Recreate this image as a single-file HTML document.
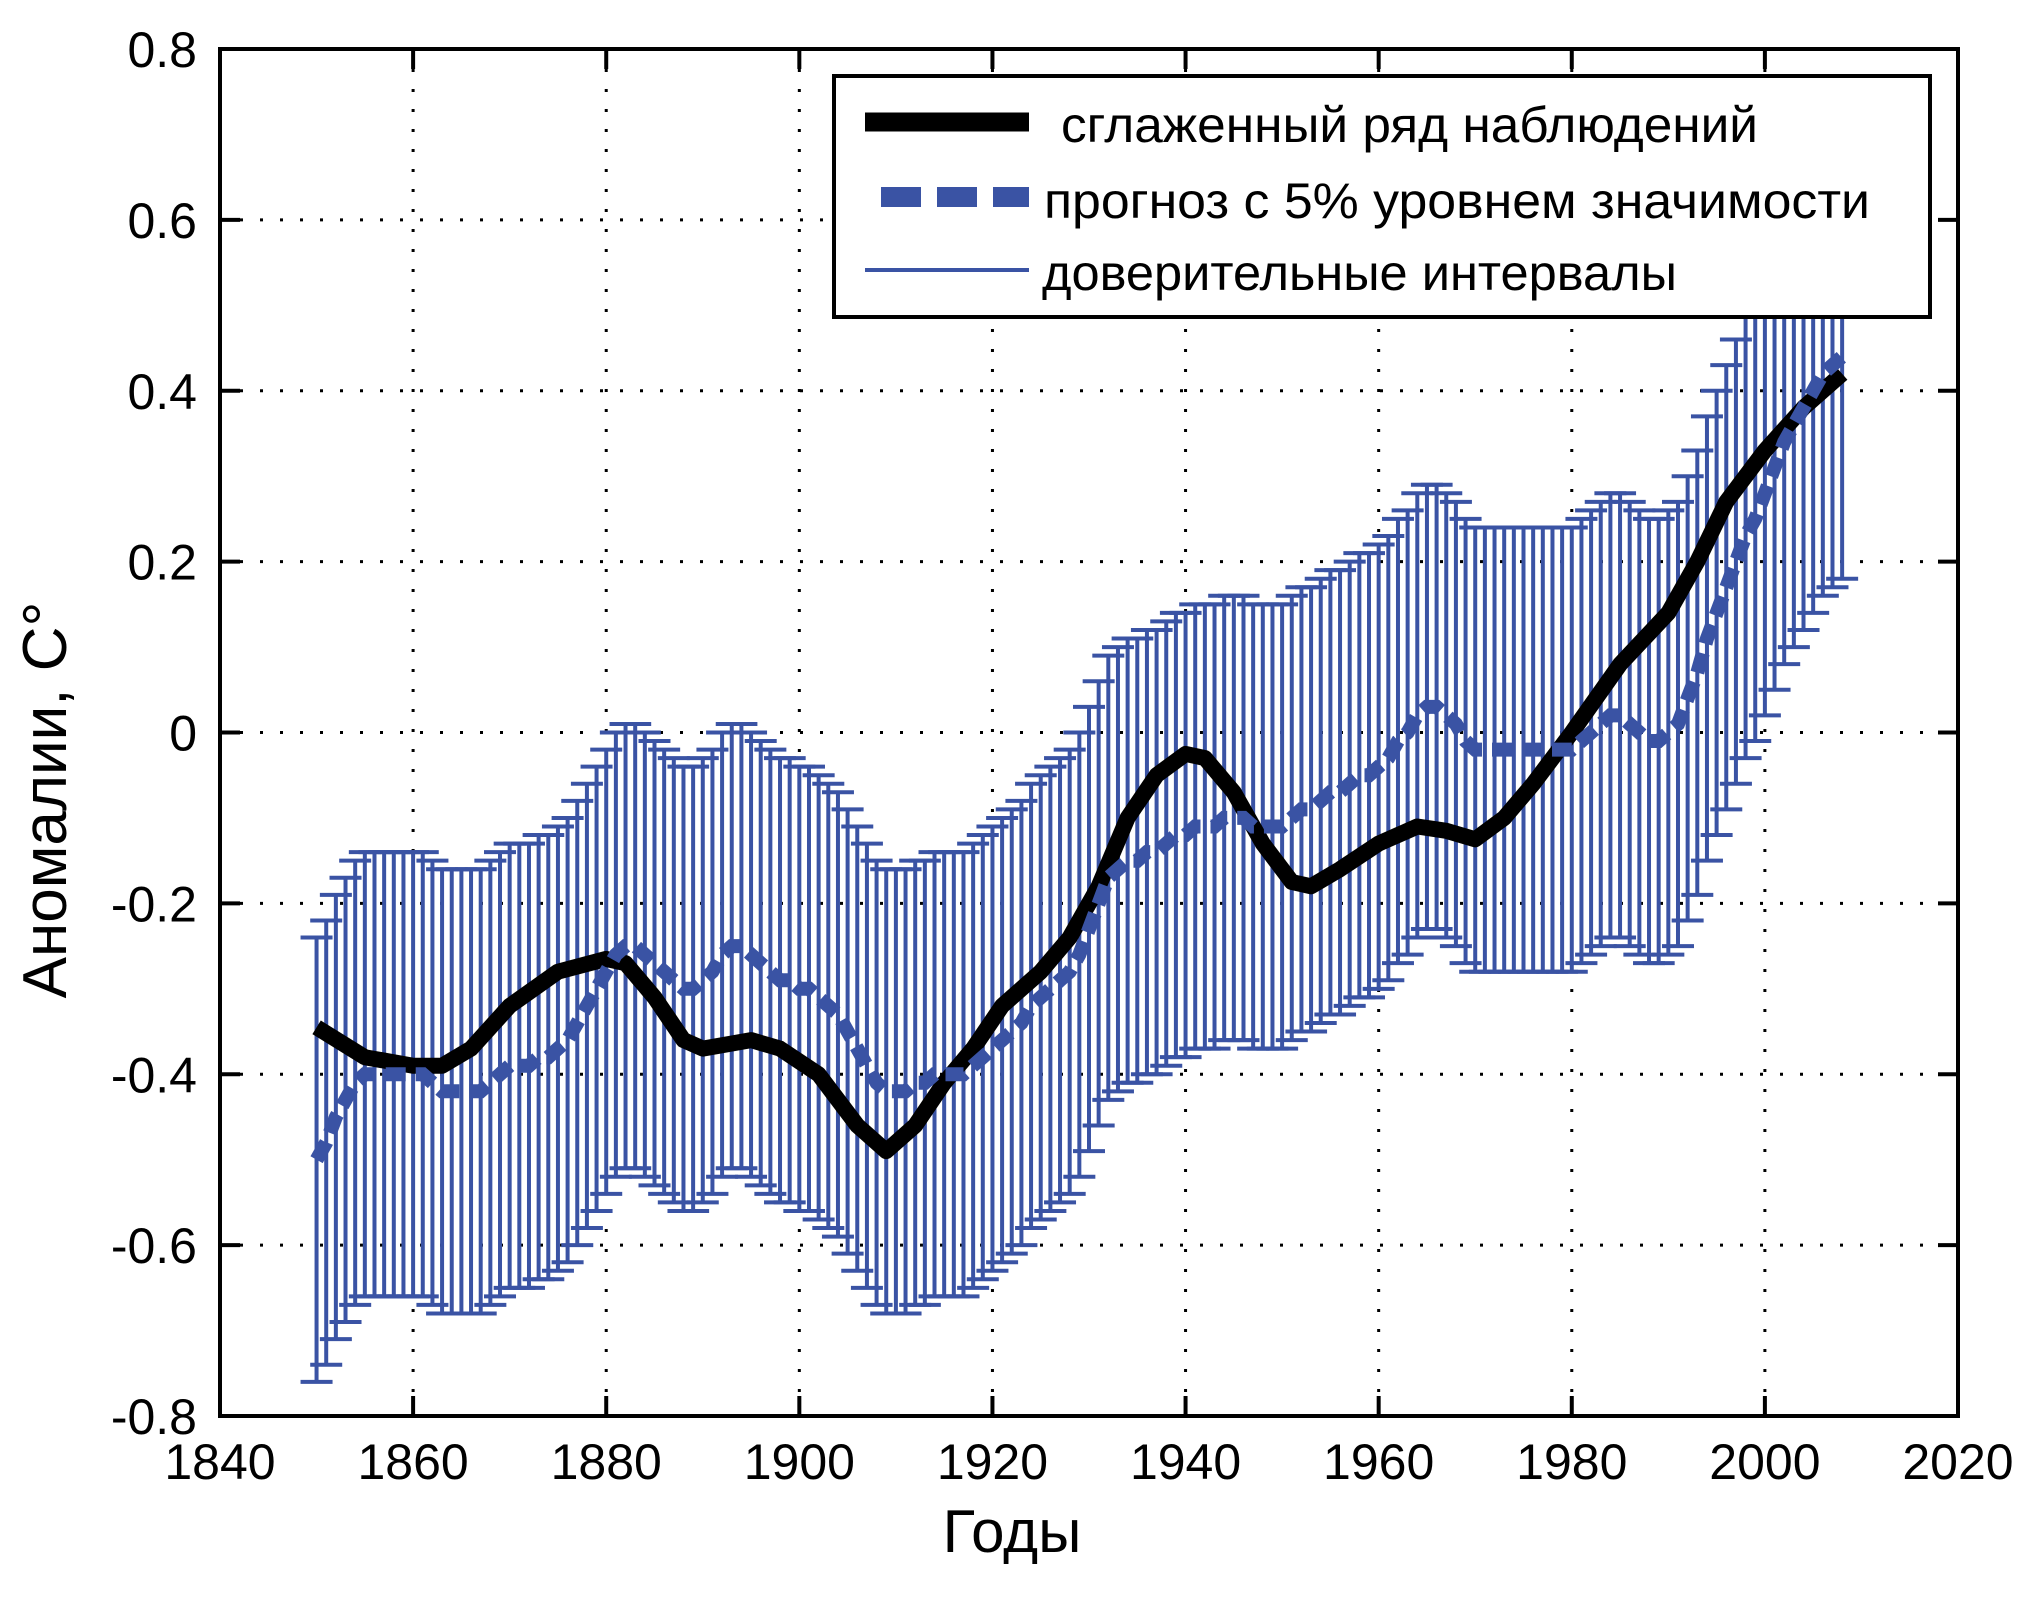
<!DOCTYPE html>
<html><head><meta charset="utf-8"><style>html,body{margin:0;padding:0;background:#fff}svg{display:block}</style></head>
<body>
<svg id="chart" width="2027" height="1599" viewBox="0 0 2027 1599" xmlns="http://www.w3.org/2000/svg" font-family="Liberation Sans, DejaVu Sans, sans-serif">
<g id="grid"></g>
<g id="bars"></g>
<g id="lines"></g>
<rect x="220" y="49" width="1738" height="1367" fill="none" stroke="#000" stroke-width="4"/>
<g id="ticks"></g>
<text x="1012" y="1552" font-size="60" text-anchor="middle">Годы</text>
<text x="0" y="0" font-size="62" text-anchor="middle" transform="translate(66,800) rotate(-90)">Аномалии, С°</text>
<g>
<rect x="834" y="76" width="1096" height="241" fill="#fff" stroke="#000" stroke-width="4"/>
<line x1="865" y1="122" x2="1029" y2="122" stroke="#000" stroke-width="19"/>
<text x="1061" y="142" font-size="50" textLength="697" lengthAdjust="spacingAndGlyphs">сглаженный ряд наблюдений</text>
<line x1="881" y1="197" x2="1029" y2="197" stroke="#3A53A4" stroke-width="20" stroke-dasharray="40 16"/>
<text x="1044" y="218" font-size="50" textLength="826" lengthAdjust="spacingAndGlyphs">прогноз с 5% уровнем значимости</text>
<line x1="865" y1="270" x2="1029" y2="270" stroke="#3A53A4" stroke-width="4"/>
<text x="1042" y="290" font-size="50" textLength="635" lengthAdjust="spacingAndGlyphs">доверительные интервалы</text>
</g>
</svg>
<script>
const xTicks = [1840,1860,1880,1900,1920,1940,1960,1980,2000,2020];
const yTicks = [-0.8,-0.6,-0.4,-0.2,0,0.2,0.4,0.6,0.8];
const yTickLabels = ["-0.8","-0.6","-0.4","-0.2","0","0.2","0.4","0.6","0.8"];
const smoothYears = [1850,1855,1860,1863,1866,1870,1875,1880,1882,1885,1888,1890,1895,1898,1902,1906,1909,1912,1915,1918,1921,1925,1928,1931,1934,1937,1940,1942,1945,1948,1951,1953,1956,1960,1964,1967,1970,1973,1976,1980,1985,1990,1993,1996,2000,2004,2008];
const smoothValues = [-0.345,-0.38,-0.39,-0.39,-0.37,-0.32,-0.28,-0.265,-0.27,-0.31,-0.36,-0.37,-0.36,-0.37,-0.40,-0.46,-0.49,-0.46,-0.41,-0.37,-0.32,-0.28,-0.24,-0.18,-0.10,-0.05,-0.025,-0.03,-0.07,-0.13,-0.175,-0.18,-0.16,-0.13,-0.11,-0.115,-0.125,-0.10,-0.06,0.00,0.08,0.14,0.20,0.27,0.33,0.38,0.42];
const forecastStartYear = 1850;
const forecastValues = [-0.50,-0.48,-0.45,-0.43,-0.41,-0.40,-0.40,-0.40,-0.40,-0.40,-0.40,-0.40,-0.41,-0.42,-0.42,-0.42,-0.42,-0.42,-0.41,-0.40,-0.39,-0.39,-0.39,-0.38,-0.38,-0.37,-0.36,-0.34,-0.32,-0.30,-0.28,-0.26,-0.25,-0.25,-0.26,-0.27,-0.28,-0.29,-0.30,-0.30,-0.29,-0.28,-0.26,-0.25,-0.25,-0.26,-0.27,-0.28,-0.29,-0.29,-0.30,-0.30,-0.31,-0.32,-0.33,-0.35,-0.37,-0.39,-0.41,-0.42,-0.42,-0.42,-0.41,-0.41,-0.40,-0.40,-0.40,-0.40,-0.39,-0.38,-0.37,-0.36,-0.35,-0.34,-0.32,-0.31,-0.30,-0.29,-0.28,-0.26,-0.23,-0.20,-0.17,-0.16,-0.15,-0.15,-0.14,-0.14,-0.13,-0.12,-0.12,-0.11,-0.11,-0.11,-0.10,-0.10,-0.10,-0.11,-0.11,-0.11,-0.11,-0.10,-0.09,-0.09,-0.08,-0.07,-0.07,-0.06,-0.05,-0.05,-0.04,-0.03,-0.01,0.00,0.02,0.03,0.03,0.02,0.01,-0.01,-0.02,-0.02,-0.02,-0.02,-0.02,-0.02,-0.02,-0.02,-0.02,-0.02,-0.02,-0.01,0.00,0.01,0.02,0.02,0.01,0.00,-0.01,-0.01,0.00,0.01,0.04,0.07,0.11,0.14,0.17,0.20,0.23,0.25,0.28,0.31,0.34,0.36,0.38,0.40,0.42,0.43,0.44];
const intervalHalfWidth = 0.26;

const NS = "http://www.w3.org/2000/svg";
const X0 = 220, X1 = 1958, Y0 = 1416, Y1 = 49;
function xs(v){ return X0 + (v - 1840) / 180 * (X1 - X0); }
function ys(v){ return Y0 - (v + 0.8) / 1.6 * (Y0 - Y1); }
function mk(tag, attrs, parent){ const e = document.createElementNS(NS, tag); for (const k in attrs) e.setAttribute(k, attrs[k]); parent.appendChild(e); return e; }

const grid = document.getElementById('grid');
const ticks = document.getElementById('ticks');
xTicks.forEach((t, i) => {
  const x = xs(t);
  if (i > 0 && i < xTicks.length - 1) {
    const g = mk('line', {x1:x, y1:Y1, x2:x, y2:Y0, stroke:'#000', 'stroke-width':3, 'stroke-dasharray':'3 17'}, grid);
    
    
    const a = mk('line', {x1:x, y1:Y0, x2:x, y2:Y0-20, stroke:'#000', 'stroke-width':4}, ticks);
    
    
    const b = mk('line', {x1:x, y1:Y1, x2:x, y2:Y1+20, stroke:'#000', 'stroke-width':4}, ticks);
    
    
  }
  const l = mk('text', {x:x, y:1479, 'font-size':50, 'text-anchor':'middle'}, ticks);
  l.textContent = String(t);
  
  
});
yTicks.forEach((t, i) => {
  const y = ys(t);
  if (i > 0 && i < yTicks.length - 1) {
    const g = mk('line', {x1:X0, y1:y, x2:X1, y2:y, stroke:'#000', 'stroke-width':3, 'stroke-dasharray':'3 17'}, grid);
    
    
    const a = mk('line', {x1:X0, y1:y, x2:X0+20, y2:y, stroke:'#000', 'stroke-width':4}, ticks);
    
    
    const b = mk('line', {x1:X1, y1:y, x2:X1-20, y2:y, stroke:'#000', 'stroke-width':4}, ticks);
    
    
  }
  const l = mk('text', {x:197, y:y+18, 'font-size':50, 'text-anchor':'end'}, ticks);
  l.textContent = yTickLabels[i];
  
  
});

const bars = document.getElementById('bars');
const lines = document.getElementById('lines');
const clipTop = Y1, clipBot = Y0;
let fpts = [];
forecastValues.forEach((v, i) => {
  const yr = forecastStartYear + i;
  const x = xs(yr);
  const yu = Math.max(ys(v + intervalHalfWidth), clipTop);
  const yl = Math.min(ys(v - intervalHalfWidth), clipBot);
  const p = mk('path', {d:`M${x},${yu}V${yl}` + (ys(v+intervalHalfWidth) >= clipTop ? `M${x-16},${yu}H${x+16}` : '') + `M${x-16},${yl}H${x+16}`, stroke:'#3A53A4', 'stroke-width':4, fill:'none'}, bars);
  
  
  fpts.push(x.toFixed(1) + ',' + ys(v).toFixed(1));
});
const sp = smoothYears.map((yr, i) => xs(yr).toFixed(1) + ',' + ys(smoothValues[i]).toFixed(1));
const s = mk('polyline', {points:sp.join(' '), fill:'none', stroke:'#000', 'stroke-width':16, 'stroke-linejoin':'round'}, lines);


const f = mk('polyline', {points:fpts.join(' '), fill:'none', stroke:'#3A53A4', 'stroke-width':14, 'stroke-dasharray':'20 10'}, lines);


</script>
</body></html>
